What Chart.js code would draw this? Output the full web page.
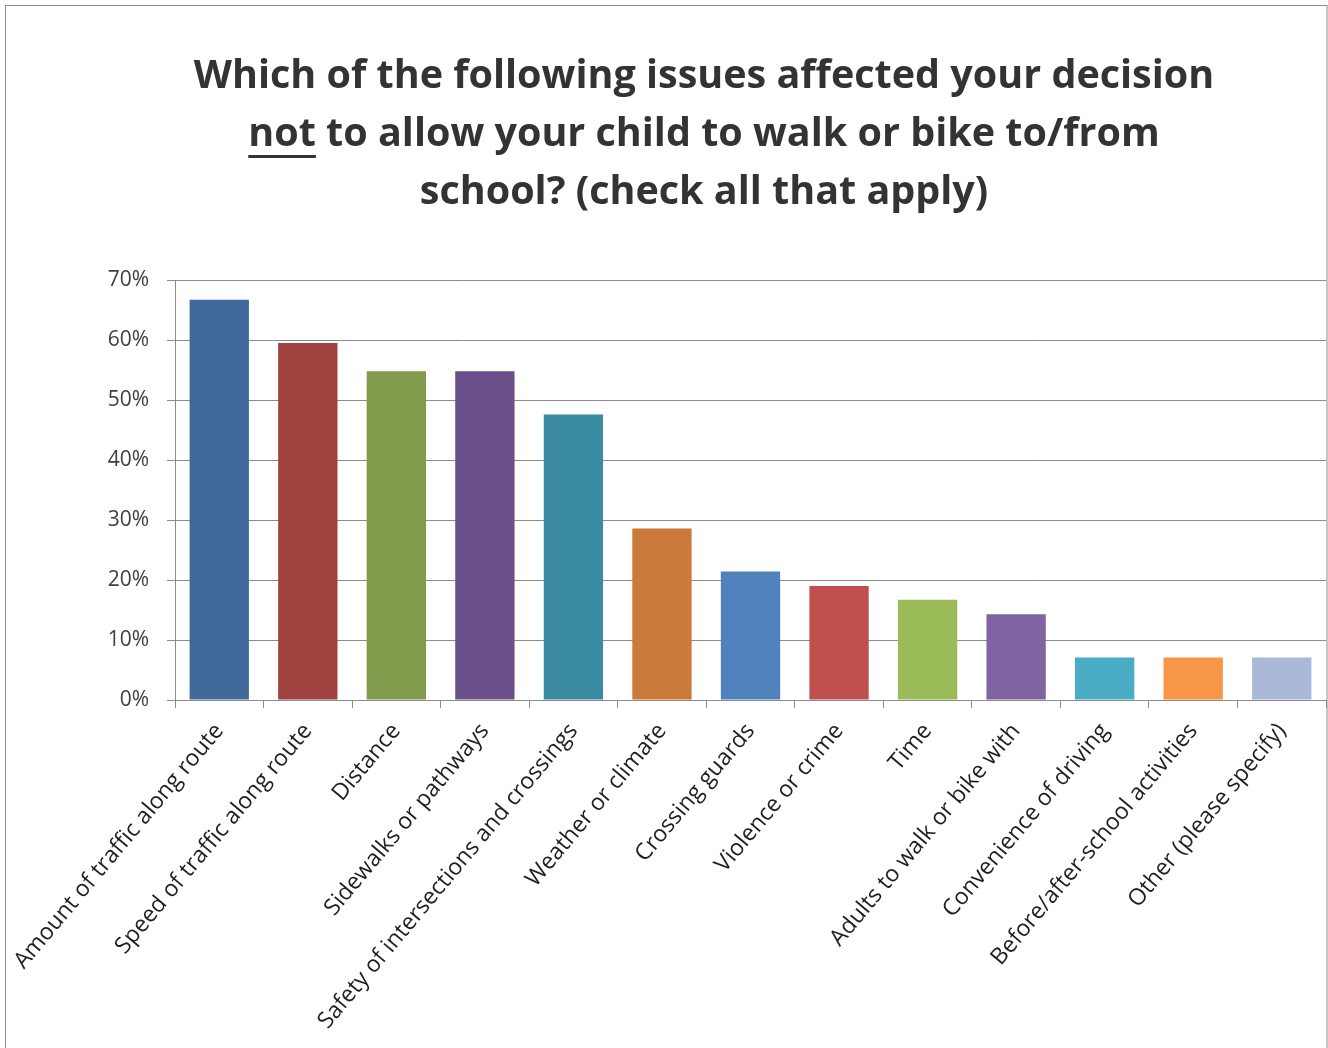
<!DOCTYPE html>
<html>
<head>
<meta charset="utf-8">
<script src="https://cdn.jsdelivr.net/npm/chart.js@4"></script>
<style>
    html, body { margin: 0; padding: 0; background: #fff; }
    #wrap { width: 1328px; height: 1048px; position: relative; }
</style>
</head>
<body>
<div id="wrap"><canvas id="chart" width="1328" height="1048"></canvas></div>
<script>
const titleLines = [
    'Which of the following issues affected your decision',
    'not to allow your child to walk or bike to/from',
    'school? (check all that apply)'
];

const issues = [
    'Amount of traffic along route',
    'Speed of traffic along route',
    'Distance',
    'Sidewalks or pathways',
    'Safety of intersections and crossings',
    'Weather or climate',
    'Crossing guards',
    'Violence or crime',
    'Time',
    'Adults to walk or bike with',
    'Convenience of driving',
    'Before/after-school activities',
    'Other (please specify)'
];

// share of respondents, in percent
const shares = [66.7, 59.5, 54.8, 54.8, 47.6, 28.6, 21.4, 19.0, 16.7, 14.3, 7.1, 7.1, 7.1];

const barColors = [
    '#416A9B', '#9E413F', '#809B4B', '#6A5088', '#3B8BA3', '#CB7A39',
    '#4F81BD', '#C0504D', '#9BBB59', '#8064A2', '#4BACC6', '#F79646', '#A9B9D7'
];

const yTicks = [0, 10, 20, 30, 40, 50, 60, 70];

const FONT = "'Open Sans', 'Lato', sans-serif";
const GRID = '#8c8c8c';

// white background and the outer frame
const framePlugin = {
    id: 'frame',
    beforeDraw: (chart) => {
        const ctx = chart.ctx;
        ctx.save();
        ctx.fillStyle = '#fff';
        ctx.fillRect(0, 0, chart.width, chart.height);
        ctx.strokeStyle = '#8c8c8c';
        ctx.lineWidth = 1;
        ctx.strokeRect(5.5, 5.5, 1321.5, 1100);
        ctx.restore();
    }
};

// three-line title, "not" underlined
const titlePlugin = {
    id: 'questionTitle',
    afterDraw: (chart) => {
        const ctx = chart.ctx;
        const size = 39.5;
        const cx = 704;
        const ys = [77, 135, 193];
        ctx.save();
        ctx.font = 'bold ' + size + 'px ' + FONT;
        ctx.fillStyle = '#333333';
        ctx.textAlign = 'center';
        ctx.textBaseline = 'middle';
        titleLines.forEach((line, i) => ctx.fillText(line, cx, ys[i]));
        const lineW = ctx.measureText(titleLines[1]).width;
        const wordW = ctx.measureText('not').width;
        ctx.fillRect(cx - lineW / 2, ys[1] + 20, wordW, 3);
        ctx.restore();
    }
};

const config = {
    type: 'bar',
    data: {
        labels: issues,
        datasets: [{
            data: shares,
            backgroundColor: barColors,
            borderWidth: 0,
            categoryPercentage: 1,
            barPercentage: 0.67
        }]
    },
    options: {
        responsive: false,
        animation: false,
        layout: {
            padding: { left: 0, right: 2, top: 280, bottom: 0 }
        },
        plugins: {
            legend: { display: false },
            tooltip: { enabled: false },
            title: { display: false }
        },
        scales: {
            x: {
                grid: {
                    display: true,
                    drawOnChartArea: false,
                    drawTicks: true,
                    tickLength: 8,
                    color: GRID,
                    offset: true
                },
                border: { display: true, color: GRID, width: 1 },
                ticks: {
                    autoSkip: false,
                    maxRotation: 50,
                    minRotation: 50,
                    padding: 10,
                    color: '#1f1f1f',
                    font: { family: FONT, size: 23 }
                },
                afterFit: (scale) => { scale.height = 348; }
            },
            y: {
                min: 0,
                max: 70,
                afterBuildTicks: (scale) => {
                    scale.ticks = yTicks.map(v => ({ value: v }));
                },
                grid: {
                    color: GRID,
                    tickLength: 8
                },
                border: { display: true, color: GRID, width: 1 },
                ticks: {
                    padding: 18,
                    color: '#404040',
                    font: { family: FONT, size: 21 },
                    callback: (v) => v + '%'
                },
                afterFit: (scale) => { scale.width = 175; }
            }
        }
    },
    plugins: [framePlugin, titlePlugin]
};

window.onload = () => {
    const ctx = document.getElementById('chart').getContext('2d');
    window.myBar = new Chart(ctx, config);
};
</script>
</body>
</html>
